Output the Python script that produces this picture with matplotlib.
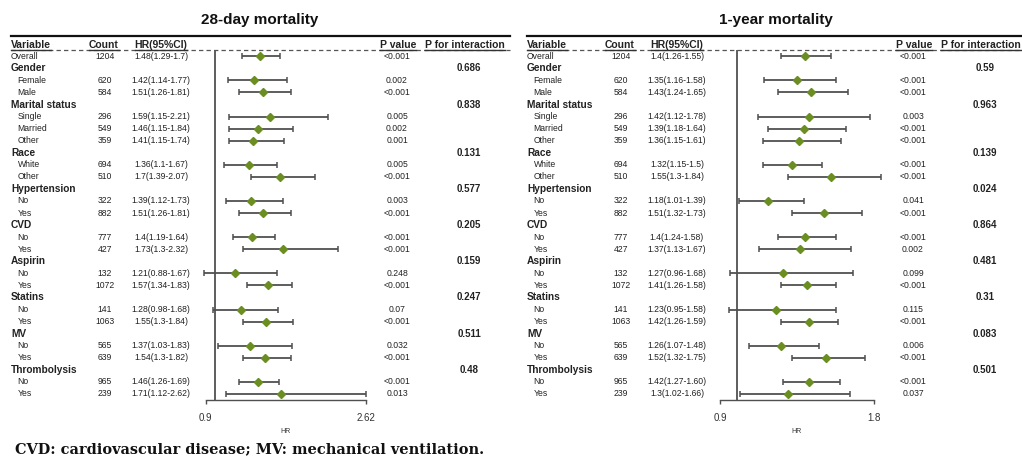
import re

import matplotlib
matplotlib.use("Agg")
import matplotlib.pyplot as plt
from matplotlib import transforms
from matplotlib.lines import Line2D
from matplotlib.transforms import IdentityTransform

W, H = 1022, 466

groups = ["Gender", "Marital status", "Race", "Hypertension", "CVD",
          "Aspirin", "Statins", "MV", "Thrombolysis"]
levels = [["Female", "Male"], ["Single", "Married", "Other"], ["White", "Other"],
          ["No", "Yes"], ["No", "Yes"], ["No", "Yes"], ["No", "Yes"],
          ["No", "Yes"], ["No", "Yes"]]

# first entry is the Overall row, then the levels in order
counts = [1204, 620, 584, 296, 549, 359, 694, 510, 322, 882, 777, 427,
          132, 1072, 141, 1063, 565, 639, 965, 239]

ci_28 = ["1.48(1.29-1.7)", "1.42(1.14-1.77)", "1.51(1.26-1.81)", "1.59(1.15-2.21)",
         "1.46(1.15-1.84)", "1.41(1.15-1.74)", "1.36(1.1-1.67)", "1.7(1.39-2.07)",
         "1.39(1.12-1.73)", "1.51(1.26-1.81)", "1.4(1.19-1.64)", "1.73(1.3-2.32)",
         "1.21(0.88-1.67)", "1.57(1.34-1.83)", "1.28(0.98-1.68)", "1.55(1.3-1.84)",
         "1.37(1.03-1.83)", "1.54(1.3-1.82)", "1.46(1.26-1.69)", "1.71(1.12-2.62)"]
p_28 = ["<0.001", "0.002", "<0.001", "0.005", "0.002", "0.001", "0.005", "<0.001",
        "0.003", "<0.001", "<0.001", "<0.001", "0.248", "<0.001", "0.07", "<0.001",
        "0.032", "<0.001", "<0.001", "0.013"]
pint_28 = ["0.686", "0.838", "0.131", "0.577", "0.205", "0.159", "0.247", "0.511", "0.48"]

ci_1y = ["1.4(1.26-1.55)", "1.35(1.16-1.58)", "1.43(1.24-1.65)", "1.42(1.12-1.78)",
         "1.39(1.18-1.64)", "1.36(1.15-1.61)", "1.32(1.15-1.5)", "1.55(1.3-1.84)",
         "1.18(1.01-1.39)", "1.51(1.32-1.73)", "1.4(1.24-1.58)", "1.37(1.13-1.67)",
         "1.27(0.96-1.68)", "1.41(1.26-1.58)", "1.23(0.95-1.58)", "1.42(1.26-1.59)",
         "1.26(1.07-1.48)", "1.52(1.32-1.75)", "1.42(1.27-1.60)", "1.3(1.02-1.66)"]
p_1y = ["<0.001", "<0.001", "<0.001", "0.003", "<0.001", "<0.001", "<0.001", "<0.001",
        "0.041", "<0.001", "<0.001", "0.002", "0.099", "<0.001", "0.115", "<0.001",
        "0.006", "<0.001", "<0.001", "0.037"]
pint_1y = ["0.59", "0.963", "0.139", "0.024", "0.864", "0.481", "0.31", "0.083", "0.501"]

plt.rcParams['font.family'] = ['Liberation Sans', 'DejaVu Sans']

TXT = "#222222"
BAR = "#505050"
DIAMOND = "#6a8e22"


def fx(px):
    return px / W


def fy(py):
    return 1 - py / H


def parse_ci(s):
    m = re.match(r"([\d.]+)\(([\d.]+)-([\d.]+)\)", s)
    return float(m.group(1)), float(m.group(2)), float(m.group(3))


def build_rows():
    # (kind, label, data index or group index) for every table line
    rows = [("overall", "Overall", 0)]
    k = 1
    for g, name in enumerate(groups):
        rows.append(("group", name, g))
        for lv in levels[g]:
            rows.append(("level", lv, k))
            k += 1
    return rows


def underline(fig, texts, y_px, color):
    renderer = fig.canvas.get_renderer()
    for t in texts:
        bb = t.get_window_extent(renderer)
        fig.add_artist(Line2D([bb.x0, bb.x1], [H - y_px, H - y_px], lw=1.0,
                              color=color, transform=IdentityTransform()))


def draw_panel(fig, title, ci, pvals, pint, xmax, ax_x0, ax_x1, dx, line_end):
    ax = fig.add_axes([fx(ax_x0), fy(400), fx(ax_x1 - ax_x0), (400 - 50) / H])
    ax.patch.set_alpha(0)
    rows = build_rows()
    ax.set_xlim(0.9, xmax)
    ax.set_ylim(len(rows) - 0.5, -0.52)

    ys, hr, lo, hi = [], [], [], []
    for r, (kind, label, idx) in enumerate(rows):
        if kind == "group":
            continue
        h, l, u = parse_ci(ci[idx])
        ys.append(r)
        hr.append(h)
        lo.append(h - l)
        hi.append(u - h)

    ax.axvline(1, color=BAR, lw=1.3, zorder=1)
    ax.errorbar(hr, ys, xerr=[lo, hi], fmt="D", color=DIAMOND, ms=4.5, mec=DIAMOND,
                ecolor=BAR, elinewidth=1.3, capsize=2.3, capthick=1.1,
                clip_on=False, zorder=3)

    for s in ["left", "top", "right"]:
        ax.spines[s].set_visible(False)
    ax.spines["bottom"].set_color(BAR)
    ax.spines["bottom"].set_linewidth(1.0)
    ax.set_yticks([])
    ax.set_xticks([0.9, xmax])
    ax.set_xticklabels(["0.9", f"{xmax:g}"])
    ax.tick_params(axis="x", length=3, width=1, color=BAR, pad=6.5,
                   labelsize=7, labelcolor="#333333")
    ax.set_xlabel("HR", fontsize=5, labelpad=3.5, color="#333333")

    tr = transforms.blended_transform_factory(fig.transFigure, ax.transData)
    for r, (kind, label, idx) in enumerate(rows):
        if kind == "group":
            fig.text(fx(11 + dx), r, label, transform=tr, ha="left", va="center",
                     fontsize=7.3, fontweight="bold", color=TXT)
            fig.text(fx(469 + dx), r, pint[idx], transform=tr, ha="center",
                     va="center", fontsize=7, fontweight="bold", color=TXT)
            continue
        x_lab = 11 if kind == "overall" else 17.5
        fig.text(fx(x_lab + dx), r, label, transform=tr, ha="left", va="center",
                 fontsize=6.2, color=TXT)
        fig.text(fx(105 + dx), r, str(counts[idx]), transform=tr, ha="center",
                 va="center", fontsize=6.2, color=TXT)
        fig.text(fx(161 + dx), r, ci[idx], transform=tr, ha="center",
                 va="center", fontsize=6.2, color=TXT)
        fig.text(fx(397 + dx), r, pvals[idx], transform=tr, ha="center",
                 va="center", fontsize=6.2, color=TXT)

    # title, rule and header line
    fig.text(fx(260 + dx), fy(20), title, ha="center", va="center",
             fontsize=11, fontweight="bold", color="#111111")
    fig.add_artist(Line2D([fx(11 + dx), fx(line_end)], [fy(36), fy(36)],
                          lw=1.6, color="#111111"))
    fig.add_artist(Line2D([fx(11 + dx), fx(line_end)], [fy(50), fy(50)],
                          lw=0.9, color="#555555", ls=(0, (3.5, 2.5))))
    hdr = dict(va="baseline", fontsize=7.5, fontweight="bold", color=TXT)
    heads = [
        fig.text(fx(11 + dx), fy(48.5), "Variable", ha="left", **hdr),
        fig.text(fx(104 + dx), fy(48.5), "Count", ha="center", **hdr),
        fig.text(fx(161 + dx), fy(48.5), "HR(95%CI)", ha="center", **hdr),
        fig.text(fx(398 + dx), fy(48.5), "P value", ha="center", **hdr),
        fig.text(fx(425 + dx), fy(48.5), "P for interaction", ha="left", **hdr),
    ]
    return heads


fig = plt.figure(figsize=(W / 100, H / 100), dpi=100)

heads = draw_panel(fig, "28-day mortality", ci_28, p_28, pint_28, 2.62,
                   205.7, 366.0, 0, 510)
heads += draw_panel(fig, "1-year mortality", ci_1y, p_1y, pint_1y, 1.8,
                    720.0, 873.7, 516, 1030)

fig.text(fx(15), fy(449), "CVD: cardiovascular disease; MV: mechanical ventilation.",
         ha="left", va="center", fontsize=10.45, fontweight="bold",
         family="DejaVu Serif", color="#111111")

fig.canvas.draw()
underline(fig, heads, 50, "#333333")

fig.savefig("out.png", dpi=100)
